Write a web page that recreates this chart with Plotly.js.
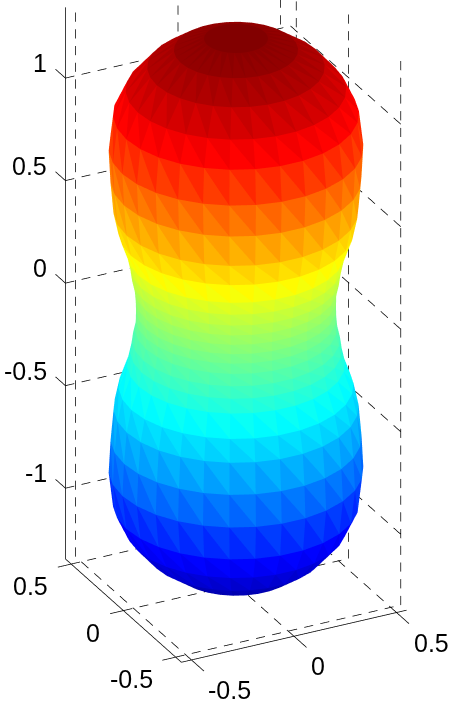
<!DOCTYPE html>
<html>
<head>
<meta charset="utf-8">
<script src="https://cdn.plot.ly/plotly-3.0.1.min.js"></script>
<style>
  html, body { margin: 0; padding: 0; background: #fff; }
  #chart { width: 468px; height: 714px; }
</style>
</head>
<body>
<div id="chart"></div>
<script>
// profile of the body, one value per ring, top to bottom
const ringZ = [1.335, 1.318, 1.262, 1.179, 1.069, 0.950, 0.785, 0.630, 0.480, 0.375, 0.270, 0.205, 0.148, 0.094, 0.046, 0,
  -0.046, -0.094, -0.148, -0.205, -0.270, -0.375, -0.480, -0.630, -0.785, -0.950, -1.069, -1.179, -1.262, -1.318, -1.335];
const ringR = [0, 0.139, 0.270, 0.386, 0.480, 0.535, 0.554, 0.546, 0.533, 0.511, 0.474, 0.460, 0.452, 0.440, 0.436, 0.435,
  0.436, 0.440, 0.452, 0.460, 0.474, 0.511, 0.533, 0.546, 0.554, 0.535, 0.480, 0.386, 0.270, 0.139, 0];
const lonStepDeg = 12;

// axes
const xTicks = [-0.5, 0, 0.5];
const yTicks = [-0.5, 0, 0.5];
const zTicks = [-1, -0.5, 0, 0.5, 1];
const xLim = [-0.549, 0.549];
const yLim = [-0.555, 0.555];
const zLim = [-1.345, 1.345];

const jet = [
  [0, 'rgb(0,0,143)'],
  [0.125, 'rgb(0,0,255)'],
  [0.375, 'rgb(0,255,255)'],
  [0.625, 'rgb(255,255,0)'],
  [0.875, 'rgb(255,0,0)'],
  [1, 'rgb(128,0,0)']
];

// mesh: rings of vertices, each quad split in two triangles
let vx = [], vy = [], vz = [];
const nLon = 360 / lonStepDeg;
ringZ.forEach((z, r) => {
  for (let j = 0; j < nLon; j++) {
    let a = j * lonStepDeg * Math.PI / 180;
    vx.push(ringR[r] * Math.cos(a));
    vy.push(ringR[r] * Math.sin(a));
    vz.push(z);
  }
});
let ti = [], tj = [], tk = [], faceZ = [];
function addTri(a, b, c) {
  ti.push(a); tj.push(b); tk.push(c);
  faceZ.push((vz[a] + vz[b] + vz[c]) / 3); // facet colour = mean height
}
for (let r = 0; r < ringZ.length - 1; r++) {
  for (let j = 0; j < nLon; j++) {
    let j2 = (j + 1) % nLon;
    let tl = r * nLon + j, tr = r * nLon + j2;
    let bl = (r + 1) * nLon + j, br = (r + 1) * nLon + j2;
    addTri(tl, tr, br);
    addTri(tl, bl, br);
  }
}

// line helpers, segments broken with nulls
let dashed = { x: [], y: [], z: [] };
let solid = { x: [], y: [], z: [] };
function seg(t, a, b) {
  t.x.push(a[0], b[0], null);
  t.y.push(a[1], b[1], null);
  t.z.push(a[2], b[2], null);
}
// scatter3d dashes come out far too long here, so cut the grid lines by hand
// period is about 16.5px on screen, pxPerUnit is the screen length of one data unit
function dashSeg(a, b, pxPerUnit) {
  let len = Math.hypot(b[0] - a[0], b[1] - a[1], b[2] - a[2]);
  let n = Math.floor(len * pxPerUnit / 16.5);
  for (let s = 0; s < n; s++) {
    let t0 = s / n, t1 = (s + 0.55) / n;
    seg(dashed,
      a.map((v, i) => v + (b[i] - v) * t0),
      a.map((v, i) => v + (b[i] - v) * t1));
  }
}
const pxX = 211, pxY = 138, pxZ = 206;

// grid on the two back walls and the floor
yTicks.forEach(v => dashSeg([xLim[1], v, zLim[0]], [xLim[1], v, zLim[1]], pxZ));
xTicks.forEach(v => dashSeg([v, yLim[1], zLim[0]], [v, yLim[1], zLim[1]], pxZ));
zTicks.forEach(v => {
  dashSeg([xLim[0], yLim[1], v], [xLim[1], yLim[1], v], pxX);
  dashSeg([xLim[1], yLim[1], v], [xLim[1], yLim[0], v], pxY);
});
xTicks.forEach(v => dashSeg([v, yLim[0], zLim[0]], [v, yLim[1], zLim[0]], pxY));
yTicks.forEach(v => dashSeg([xLim[0], v, zLim[0]], [xLim[1], v, zLim[0]], pxX));

// axis lines and tick marks
seg(solid, [xLim[0], yLim[0], zLim[0]], [xLim[1], yLim[0], zLim[0]]);
seg(solid, [xLim[0], yLim[0], zLim[0]], [xLim[0], yLim[1], zLim[0]]);
seg(solid, [xLim[0], yLim[1], zLim[0]], [xLim[0], yLim[1], zLim[1]]);
xTicks.forEach(v => seg(solid, [v, yLim[0], zLim[0]], [v, yLim[0] - 0.12, zLim[0]]));
yTicks.forEach(v => seg(solid, [xLim[0], v, zLim[0]], [xLim[0] - 0.065, v, zLim[0]]));
zTicks.forEach(v => seg(solid, [xLim[0], yLim[1], v], [xLim[0], yLim[1] + 0.095, v]));

const labelFont = { family: 'Liberation Sans, Arial, sans-serif', size: 25, color: '#000' };
let labels = [];
xTicks.forEach(v => labels.push({ x: v, y: yLim[0], z: zLim[0], text: String(v), showarrow: false,
  xanchor: 'left', yanchor: 'middle', xshift: 15, yshift: -30, font: labelFont }));
yTicks.forEach(v => labels.push({ x: xLim[0], y: v, z: zLim[0], text: String(v), showarrow: false,
  xanchor: 'right', yanchor: 'middle', xshift: -21, yshift: -22, font: labelFont }));
zTicks.forEach(v => labels.push({ x: xLim[0], y: yLim[1], z: v, text: String(v), showarrow: false,
  xanchor: 'right', yanchor: 'middle', xshift: -16, yshift: 15, font: labelFont }));

let data = [
  {
    type: 'mesh3d', x: vx, y: vy, z: vz, i: ti, j: tj, k: tk,
    intensity: faceZ, intensitymode: 'cell',
    colorscale: jet, cmin: -1.335, cmax: 1.335, showscale: false,
    flatshading: true,
    lighting: { ambient: 1, diffuse: 0, specular: 0, roughness: 1, fresnel: 0 },
    hoverinfo: 'skip'
  },
  { type: 'scatter3d', mode: 'lines', x: dashed.x, y: dashed.y, z: dashed.z,
    line: { color: '#000', width: 1.5 }, hoverinfo: 'skip', connectgaps: false },
  { type: 'scatter3d', mode: 'lines', x: solid.x, y: solid.y, z: solid.z,
    line: { color: '#000', width: 1.5 }, hoverinfo: 'skip', connectgaps: false }
];

// view: azimuth -27, elevation 27, orthographic
// the orthographic size follows aspectratio and not the eye distance
const R = 1.4;
const k = 1.805;
const az = -27 * Math.PI / 180, el = 27 * Math.PI / 180;
const eyeDist = 2.5;
const center = { x: -2 / 206 * k / (2 * R), y: 0, z: -48 / 206 * k / (2 * R) };
const hidden = { visible: false, showgrid: false, zeroline: false, showspikes: false, range: [-R, R], autorange: false };

let layout = {
  width: 468, height: 714,
  margin: { l: 0, r: 0, t: 0, b: 0 },
  paper_bgcolor: '#fff',
  showlegend: false,
  scene: {
    domain: { x: [0, 1], y: [0, 1] },
    xaxis: hidden, yaxis: hidden, zaxis: hidden,
    aspectmode: 'manual', aspectratio: { x: k, y: k, z: k },
    bgcolor: '#fff',
    camera: {
      projection: { type: 'orthographic' },
      up: { x: 0, y: 0, z: 1 },
      center: center,
      eye: {
        x: center.x + eyeDist * Math.sin(az) * Math.cos(el),
        y: center.y - eyeDist * Math.cos(az) * Math.cos(el),
        z: center.z + eyeDist * Math.sin(el)
      }
    },
    annotations: labels
  }
};

Plotly.newPlot('chart', data, layout, { displayModeBar: false });
</script>
</body>
</html>
